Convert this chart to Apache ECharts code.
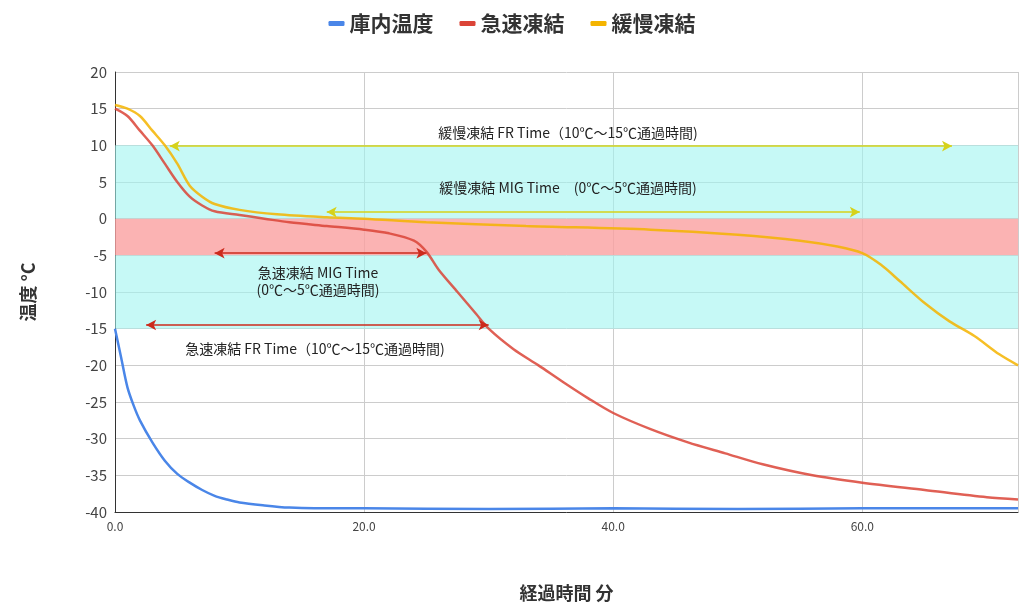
<!DOCTYPE html>
<html><head><meta charset="utf-8">
<script src="https://cdn.jsdelivr.net/npm/echarts@6/dist/echarts.min.js"></script>
<style>html,body{margin:0;padding:0;background:#fff}#main{width:1024px;height:607px}</style>
</head><body><div id="main"></div>
<script>
var storeTemp = [[0,-15],[0.5,-19],[1,-23],[1.5,-25.5],[2,-27.5],[3,-30.5],[4,-33],[5,-34.8],[6,-36],[7,-37],[8,-37.8],[9,-38.3],[10,-38.7],[12,-39.1],[14,-39.4],[16,-39.5],[20,-39.5],[30,-39.6],[40,-39.5],[50,-39.6],[60,-39.5],[72.5,-39.5]];
var quickFreeze = [[0,15],[1,14],[2,12],[3,10],[4,7.5],[5,5],[6,3],[7,1.8],[8,1],[10,0.5],[12,0],[14,-0.5],[17,-1],[20,-1.5],[22,-2],[24,-3],[25,-4.5],[26,-7],[27.5,-10],[29,-13],[30,-15],[32,-17.8],[34,-20],[36,-22.3],[38,-24.5],[40,-26.5],[43,-28.7],[46,-30.5],[49,-32],[52,-33.5],[56,-35],[60,-36],[65,-37],[70,-38],[72.5,-38.3]];
var slowFreeze = [[0,15.5],[1,15],[2,14],[3,12],[4,10],[5,7.5],[6,4.5],[7,3],[8,2],[10,1.2],[13,0.6],[17,0.2],[20,0],[25,-0.5],[33,-1],[43,-1.5],[50,-2.2],[55,-3],[58,-3.8],[60,-4.7],[61.5,-6.3],[63,-8.5],[65,-11.5],[67,-14],[69,-16],[71,-18.5],[72.5,-20]];
var xTicks = [0, 20, 40, 60];

var chart = echarts.init(document.getElementById('main'));
var font = '"Noto Sans CJK JP", sans-serif';
function arrow(y, x1, x2){
  return [{coord:[x1,y],symbol:'arrow'},{coord:[x2,y],symbol:'arrow'}];
}
function note(x, y, text){
  return {type:'text',x:x,y:y,z:100,style:{text:text,fontSize:14,lineHeight:17,fill:'#222',align:'center',fontFamily:font}};
}
chart.setOption({
  animation:false,
  textStyle:{fontFamily:font},
  legend:{top:8,left:'center',itemWidth:16,itemHeight:5,itemGap:26,icon:'roundRect',
    textStyle:{fontSize:21,fontWeight:'bold',color:'#333'},
    data:['庫内温度','急速凍結','緩慢凍結']},
  grid:{left:115,right:6,top:72,bottom:89,containLabel:false},
  xAxis:{type:'value',min:0,max:72.5,interval:20,
    axisLine:{onZero:false,lineStyle:{color:'#333'}},axisTick:{show:false},
    axisLabel:{color:'#444',fontSize:12,formatter:function(v){return xTicks.indexOf(v)>=0?v.toFixed(1):'';}},
    splitLine:{lineStyle:{color:'#ccc'}},
    name:'経過時間 分',nameLocation:'middle',nameGap:72,
    nameTextStyle:{fontSize:18,fontWeight:'bold',color:'#333'}},
  yAxis:{type:'value',min:-40,max:20,interval:5,
    axisLine:{show:true,onZero:false,lineStyle:{color:'#333'}},axisTick:{show:false},
    axisLabel:{color:'#444',fontSize:15},
    splitLine:{lineStyle:{color:'#ccc'}},
    name:'温度 °C',nameLocation:'middle',nameGap:78,
    nameTextStyle:{fontSize:18,fontWeight:'bold',color:'#333'}},
  graphic:[
    note(568,124,'緩慢凍結 FR Time（10℃〜15℃通過時間)'),
    note(568,179,'緩慢凍結 MIG Time　(0℃〜5℃通過時間)'),
    note(318,264,'急速凍結 MIG Time\n(0℃〜5℃通過時間)'),
    note(315,340,'急速凍結 FR Time（10℃〜15℃通過時間)')
  ],
  series:[
    {name:'庫内温度',type:'line',data:storeTemp,showSymbol:false,smooth:0.3,color:'#4a86e8',lineStyle:{width:2.5},z:3,
      markArea:{silent:true,data:[
        [{yAxis:10,itemStyle:{color:'rgba(160,245,240,0.6)'}},{yAxis:0}],
        [{yAxis:0,itemStyle:{color:'rgba(250,160,160,0.8)'}},{yAxis:-5}],
        [{yAxis:-5,itemStyle:{color:'rgba(160,245,240,0.6)'}},{yAxis:-15}]]}},
    {name:'急速凍結',type:'line',data:quickFreeze,showSymbol:false,smooth:0.3,color:'#db4437',lineStyle:{width:2.5,opacity:0.85},z:3,
      markLine:{silent:true,symbolSize:[8,10],label:{show:false},lineStyle:{color:'#cc2a1c',type:'solid',width:1.5},
        data:[arrow(-4.7,8,25),arrow(-14.5,2.5,30)]}},
    {name:'緩慢凍結',type:'line',data:slowFreeze,showSymbol:false,smooth:0.3,color:'#f4b400',lineStyle:{width:2.5,opacity:0.85},z:3,
      markLine:{silent:true,symbolSize:[8,10],label:{show:false},lineStyle:{color:'#d6d21a',type:'solid',width:1.5},
        data:[arrow(9.9,4.4,67.2),arrow(0.9,17,59.8)]}}
  ]
});
</script></body></html>
